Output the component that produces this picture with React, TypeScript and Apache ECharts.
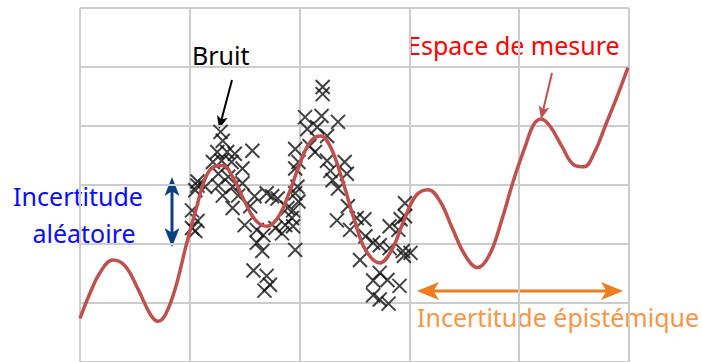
import React, { useEffect, useRef } from "react";
import * as echarts from "echarts";

// Grid ticks (conceptual units)
const xTicks = [0, 1, 2, 3, 4, 5];
const yTicks = [0, 1, 2, 3, 4, 5, 6];

const curvePoints: [number, number][] = [
  [0.0, 0.74], [0.09, 1.16], [0.18, 1.51], [0.3, 1.73], [0.41, 1.63], [0.53, 1.23],
  [0.64, 0.81], [0.71, 0.69], [0.78, 0.81], [0.87, 1.26], [0.97, 2.0], [1.06, 2.61],
  [1.14, 3.11], [1.22, 3.31], [1.3, 3.33], [1.39, 3.14], [1.5, 2.72], [1.6, 2.4],
  [1.7, 2.3], [1.8, 2.44], [1.91, 2.89], [2.02, 3.45], [2.11, 3.76], [2.19, 3.83],
  [2.28, 3.65], [2.39, 3.08], [2.5, 2.4], [2.6, 1.9], [2.73, 1.68], [2.84, 1.9],
  [2.95, 2.4], [3.06, 2.82], [3.17, 2.92], [3.28, 2.72], [3.39, 2.27], [3.51, 1.8],
  [3.62, 1.6], [3.73, 1.82], [3.84, 2.4], [3.95, 3.09], [4.06, 3.68], [4.13, 4.02],
  [4.2, 4.12], [4.28, 4.0], [4.39, 3.65], [4.5, 3.34], [4.59, 3.31], [4.68, 3.53],
  [4.79, 4.03], [4.9, 4.54], [4.99, 4.99],
];

// Noisy observations (x, y)
const noisePoints: [number, number][] = [
  [1.28, 3.9], [1.3, 3.75], [1.25, 3.56], [1.34, 3.56], [1.41, 3.53], [1.57, 3.58],
  [1.21, 3.39], [1.29, 3.41], [1.38, 3.39], [1.48, 3.28], [1.26, 3.19], [1.35, 3.14],
  [1.07, 2.99], [1.05, 2.91], [1.14, 2.97], [1.26, 2.99], [1.39, 2.97], [1.48, 3.03],
  [1.3, 2.82], [1.44, 2.82], [1.59, 2.81], [1.7, 2.86], [1.75, 2.81], [1.8, 2.77],
  [1.96, 2.86], [1.02, 2.57], [1.39, 2.61], [1.55, 2.64], [1.89, 2.61], [1.99, 2.72],
  [1.02, 2.27], [1.5, 2.32], [1.61, 2.24], [1.67, 2.15], [1.78, 2.27], [1.87, 2.32],
  [1.93, 2.44], [1.84, 2.18], [1.61, 2.02], [1.66, 1.88], [1.96, 1.9], [1.58, 1.55],
  [1.7, 1.46], [1.73, 1.31], [1.68, 1.21], [1.96, 3.61], [1.96, 3.28], [1.99, 3.39],
  [2.21, 4.66], [2.21, 4.54], [2.05, 4.15], [2.2, 4.17], [2.35, 4.07], [2.07, 3.95],
  [2.16, 3.98], [2.25, 3.83], [2.09, 3.66], [2.14, 3.56], [2.25, 3.41], [2.41, 3.39],
  [2.28, 3.24], [2.43, 3.19], [2.3, 3.08], [1.98, 2.97], [2.35, 2.94], [2.44, 2.64],
  [2.34, 2.4], [2.52, 2.44], [1.94, 2.57], [1.94, 2.3], [2.46, 2.24], [2.6, 2.13],
  [2.96, 2.69], [2.96, 2.47], [2.82, 2.3], [2.9, 2.24], [2.67, 2.02], [2.73, 1.98],
  [2.82, 1.93], [2.94, 1.88], [3.01, 1.85], [2.55, 1.73], [2.73, 1.51], [2.67, 1.38],
  [2.8, 1.39], [2.91, 1.29], [2.67, 1.13], [2.73, 1.06], [2.59, 2.42], [2.81, 0.99],
  [2.95, 1.8], [2.92, 2.42], [1.07, 3.06], [1.07, 2.39], [1.05, 2.22],
];

const labels = {
  noise: "Bruit",
  space: "Espace de mesure",
  aleaLine1: "Incertitude",
  aleaLine2: "aléatoire",
  episte: "Incertitude épistémique",
};

const FONT = '"Noto Sans", "Open Sans", sans-serif';

function arrowHead(
  x1: number, y1: number, x2: number, y2: number,
  len: number, half: number, color: string
) {
  const dx = x2 - x1, dy = y2 - y1;
  const l = Math.sqrt(dx * dx + dy * dy);
  const ux = dx / l, uy = dy / l;
  const px = -uy, py = ux;
  const bx = x2 - ux * len, by = y2 - uy * len;
  const nx = x2 - ux * len * 0.75, ny = y2 - uy * len * 0.75;
  return {
    type: "polygon",
    shape: {
      points: [
        [x2, y2],
        [bx + px * half, by + py * half],
        [nx, ny],
        [bx - px * half, by - py * half],
      ],
    },
    style: { fill: color },
    silent: true,
  };
}

function arrow(
  x1: number, y1: number, x2: number, y2: number,
  width: number, len: number, half: number, color: string, both: boolean
) {
  const dx = x2 - x1, dy = y2 - y1;
  const l = Math.sqrt(dx * dx + dy * dy);
  const ux = dx / l, uy = dy / l;
  const sx = both ? x1 + ux * len * 0.7 : x1;
  const sy = both ? y1 + uy * len * 0.7 : y1;
  const ex = x2 - ux * len * 0.7, ey = y2 - uy * len * 0.7;
  const els: any[] = [
    {
      type: "line",
      shape: { x1: sx, y1: sy, x2: ex, y2: ey },
      style: { stroke: color, lineWidth: width },
      silent: true,
    },
    arrowHead(x1, y1, x2, y2, len, half, color),
  ];
  if (both) els.push(arrowHead(x2, y2, x1, y1, len, half, color));
  return els;
}

function text(t: string, x: number, y: number, fill: string, align: string) {
  return {
    type: "text",
    x,
    y,
    silent: true,
    style: {
      text: t,
      fill,
      font: `25px ${FONT}`,
      textAlign: align,
      textVerticalAlign: "middle",
    },
  };
}

export default function App() {
  const ref = useRef<HTMLDivElement>(null);

  useEffect(() => {
    document.body.style.margin = "0";
    if (!ref.current) return;
    const chart = echarts.init(ref.current, undefined, { renderer: "svg" });

    const graphic: any[] = [
      ...arrow(232, 80, 219, 129, 2, 13, 5.5, "#000000", false),
      ...arrow(552, 73, 541, 119, 2, 13, 5.5, "#c0504d", false),
      ...arrow(172, 177, 172, 247, 3, 19, 7.5, "#0d3f80", true),
      ...arrow(417, 291, 623, 291, 3, 22, 9, "#f07b1e", true),
      text(labels.noise, 192, 55, "#000000", "left"),
      text(labels.space, 407, 45, "#ff0000", "left"),
      text(labels.aleaLine1, 78, 196, "#0a0aff", "center"),
      text(labels.aleaLine2, 84, 233, "#0a0aff", "center"),
      text(labels.episte, 417, 317, "#f79646", "left"),
    ];

    chart.setOption({
      animation: false,
      backgroundColor: "#ffffff",
      grid: { left: 80, top: 8, width: 549, height: 357 },
      xAxis: {
        type: "value",
        min: xTicks[0],
        max: xTicks[xTicks.length - 1],
        interval: 1,
        axisLabel: { show: false },
        axisTick: { show: false },
        axisLine: { show: false },
        splitLine: { show: true, lineStyle: { color: "#cccccc", width: 2 } },
      },
      yAxis: {
        type: "value",
        min: yTicks[0],
        max: yTicks[yTicks.length - 1],
        interval: 1,
        axisLabel: { show: false },
        axisTick: { show: false },
        axisLine: { show: false },
        splitLine: { show: true, lineStyle: { color: "#cccccc", width: 2 } },
      },
      series: [
        {
          type: "scatter",
          data: noisePoints,
          symbol: "path://M0 0L10 10M10 0L0 10",
          symbolSize: 14,
          silent: true,
          itemStyle: { color: "none", borderColor: "#111111", borderWidth: 2 },
          z: 2,
        },
        {
          type: "line",
          data: curvePoints,
          smooth: 0.4,
          symbol: "none",
          silent: true,
          lineStyle: { color: "#c0504d", width: 3.5 },
          z: 3,
        },
      ],
      graphic,
    });

    return () => chart.dispose();
  }, []);

  return <div ref={ref} style={{ width: 702, height: 362 }} />;
}
